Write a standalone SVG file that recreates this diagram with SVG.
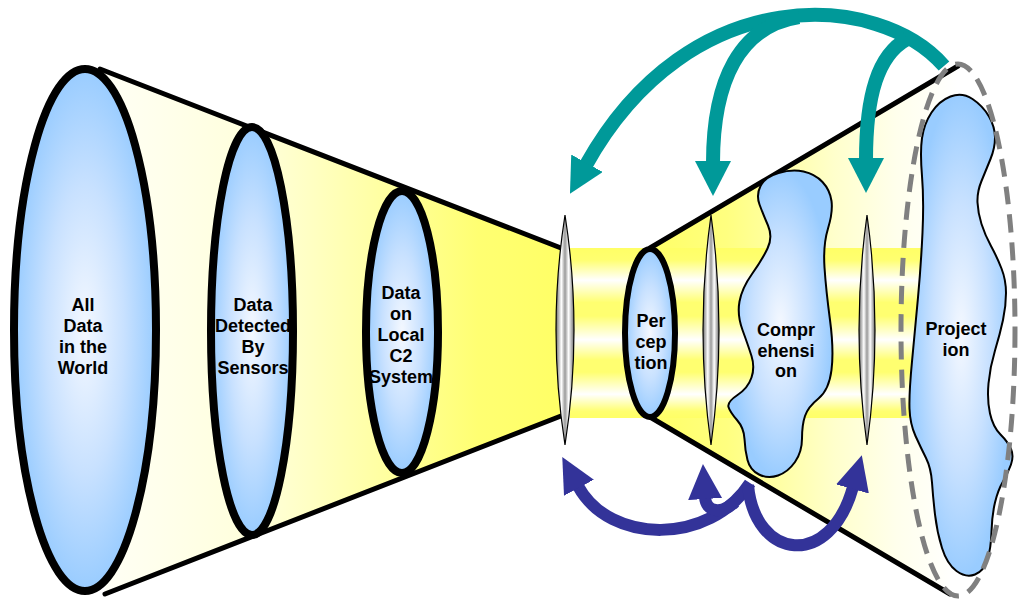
<svg xmlns="http://www.w3.org/2000/svg" width="1018" height="603" viewBox="0 0 1018 603">
<style>
.lbl{font-family:"Liberation Sans",Arial,sans-serif;font-weight:bold;font-size:18px;fill:#000;text-anchor:middle}
.ell{fill:url(#blue);stroke:#000;stroke-width:8}
.blob{fill:url(#blue);stroke:#000;stroke-width:2}
.lens{fill:url(#lensG);stroke:#000;stroke-width:1.2}
.edge{stroke:#000;stroke-width:5;fill:none;stroke-linecap:round}
.teal{fill:none;stroke:#009999;stroke-width:14}
.navy{fill:none;stroke:#333399;stroke-width:12}
</style>
<defs>
<linearGradient id="funL" gradientUnits="userSpaceOnUse" x1="100" y1="0" x2="561" y2="0">
<stop offset="0" stop-color="#FFFFF6"/><stop offset="0.35" stop-color="#FFFFDA"/><stop offset="0.62" stop-color="#FFFFA0"/><stop offset="0.82" stop-color="#FFFF72"/><stop offset="1" stop-color="#FFFF66"/>
</linearGradient>
<linearGradient id="funR" gradientUnits="userSpaceOnUse" x1="650" y1="0" x2="958" y2="0">
<stop offset="0" stop-color="#FFFF66"/><stop offset="0.25" stop-color="#FFFF80"/><stop offset="0.6" stop-color="#FFFFCC"/><stop offset="0.8" stop-color="#FFFFEC"/><stop offset="1" stop-color="#FFFFFF"/>
</linearGradient>
<linearGradient id="stripe" gradientUnits="userSpaceOnUse" x1="0" y1="248" x2="0" y2="418">
<stop offset="0" stop-color="#FFFF66"/><stop offset="0.07" stop-color="#FFFF70"/><stop offset="0.19" stop-color="#FFFFFF"/><stop offset="0.32" stop-color="#FFFF70"/><stop offset="0.40" stop-color="#FFFF70"/><stop offset="0.54" stop-color="#FFFFFF"/><stop offset="0.66" stop-color="#FFFF70"/><stop offset="0.73" stop-color="#FFFF70"/><stop offset="0.86" stop-color="#FFFFFF"/><stop offset="0.96" stop-color="#FFFF70"/><stop offset="1" stop-color="#FFFF66"/>
</linearGradient>
<radialGradient id="blue" cx="0.5" cy="0.5" r="0.5">
<stop offset="0" stop-color="#F4F8FF"/><stop offset="0.55" stop-color="#C8E1FF"/><stop offset="1" stop-color="#99CCFF"/>
</radialGradient>
<linearGradient id="lensG" x1="0" y1="0" x2="1" y2="0">
<stop offset="0" stop-color="#6E6E6E"/><stop offset="0.3" stop-color="#FFFFFF"/><stop offset="0.5" stop-color="#9A9A9A"/><stop offset="0.7" stop-color="#FFFFFF"/><stop offset="1" stop-color="#6E6E6E"/>
</linearGradient>
<marker id="ahT" markerUnits="userSpaceOnUse" markerWidth="36" markerHeight="36" viewBox="0 0 36 36" refX="2" refY="18" orient="auto"><path d="M0,0 L35,18 L0,36 z" fill="#009999"/></marker>
<marker id="ahB" markerUnits="userSpaceOnUse" markerWidth="36" markerHeight="36" viewBox="0 0 36 36" refX="2" refY="18" orient="auto"><path d="M0,1 L35,18 L0,35 z" fill="#333399"/></marker>
</defs>

<g id="funnels">
<polygon points="100,69 561,248 561,416 105,594" fill="url(#funL)"/>
<polygon points="650,248 958,66 950,594 650,417" fill="url(#funR)"/>
<rect x="570" y="248" width="355" height="170" fill="url(#stripe)"/>
<line class="edge" x1="100" y1="69" x2="561" y2="248"/>
<line class="edge" x1="105" y1="594" x2="561" y2="416"/>
<line class="edge" x1="650" y1="248" x2="958" y2="66"/>
<line class="edge" x1="650" y1="417" x2="950" y2="594"/>
</g>

<g id="all-data">
<ellipse class="ell" cx="85" cy="330" rx="71" ry="261"/>
<text class="lbl" x="83" y="311">All</text>
<text class="lbl" x="83" y="332">Data</text>
<text class="lbl" x="83" y="353">in the</text>
<text class="lbl" x="83" y="374">World</text>
</g>

<g id="sensors">
<ellipse class="ell" cx="252" cy="331" rx="41" ry="204"/>
<text class="lbl" x="253" y="311">Data</text>
<text class="lbl" x="253" y="332">Detected</text>
<text class="lbl" x="253" y="353">By</text>
<text class="lbl" x="253" y="374">Sensors</text>
</g>

<g id="local-c2">
<ellipse class="ell" cx="402" cy="332" rx="36" ry="141"/>
<text class="lbl" x="401" y="299">Data</text>
<text class="lbl" x="401" y="320">on</text>
<text class="lbl" x="401" y="341">Local</text>
<text class="lbl" x="401" y="362">C2</text>
<text class="lbl" x="401" y="383">System</text>
</g>

<g id="lens-1"><path class="lens" d="M565,215 Q583,330 565,445 Q547,330 565,215 Z"/></g>

<g id="perception">
<ellipse cx="650" cy="333" rx="25" ry="84" fill="url(#blue)" stroke="#000" stroke-width="6"/>
<text class="lbl" x="651" y="327">Per</text>
<text class="lbl" x="651" y="348">cep</text>
<text class="lbl" x="651" y="369">tion</text>
</g>

<g id="lens-2"><path class="lens" d="M711,215 Q727,330 711,445 Q695,330 711,215 Z"/></g>

<g id="comprehension">
<path class="blob" d="M778.5,173 Q792,169 803.5,171.5 Q815,174 822.5,182 Q830,190 831.5,201 Q833,212 828,228.5 Q823,245 824.5,267.5 Q826,290 830,320 Q834,350 831.5,370 Q829,390 818.5,398.5 Q808,407 805,416 Q802,425 802,438.5 Q802,452 795,462 Q788,472 778,475.5 Q768,479 759,474.5 Q750,470 747.5,460 Q745,450 744.5,439 Q744,428 737,420 Q730,412 728.5,407 Q727,402 737.5,395 Q748,388 751.5,377.5 Q755,367 751.5,356 Q748,345 742.5,330 Q737,315 739.5,301.5 Q742,288 752,274 Q762,260 767.5,248.5 Q773,237 768,225.5 Q763,214 759.5,204.5 Q756,195 760.5,186 Q765,177 778.5,173 Z"/>
<text class="lbl" x="786" y="336">Compr</text>
<text class="lbl" x="786" y="357">ehensi</text>
<text class="lbl" x="786" y="377">on</text>
</g>

<g id="lens-3"><path class="lens" d="M867,215 Q883,330 867,445 Q851,330 867,215 Z"/></g>

<g id="projection">
<path class="blob" d="M950.5,96.5 Q962,92 972.5,99 Q983,106 989,116.5 Q995,127 995,137.5 Q995,148 990.5,159 Q986,170 981.5,181 Q977,192 977.5,202.5 Q978,213 981.5,224 Q985,235 991,246 Q997,257 1001.5,268.5 Q1006,280 1006,293 Q1006,306 1003,320 Q1000,334 995,350.5 Q990,367 988.5,383.5 Q987,400 990,413.5 Q993,427 1000.5,434.5 Q1008,442 1011,449 Q1014,456 1011,464.5 Q1008,473 1003,481.5 Q998,490 995,502.5 Q992,515 991.5,531.5 Q991,548 987.5,559.5 Q984,571 975,574.5 Q966,578 956.5,571 Q947,564 942,548 Q937,532 935,514.5 Q933,497 932,482.5 Q931,468 926,458 Q921,448 915.5,436 Q910,424 909.5,408.5 Q909,393 912,361.5 Q915,330 918,297.5 Q921,265 922.5,232.5 Q924,200 922,176 Q920,152 922,138 Q924,124 931.5,112.5 Q939,101 950.5,96.5 Z"/>
<text class="lbl" x="956" y="335">Project</text>
<text class="lbl" x="956" y="356">ion</text>
</g>

<g id="projection-boundary">
<ellipse cx="958" cy="330" rx="57" ry="266" fill="none" stroke="#808080" stroke-width="5" stroke-dasharray="18 10"/>
</g>

<g id="connectors">
<path class="teal" d="M944,66 C880,-8 690,-22 586,165" marker-end="url(#ahT)"/>
<path class="teal" d="M799,17 C740,26 713,80 713,163" marker-end="url(#ahT)"/>
<path class="teal" d="M907,39 C878,55 866,95 866,160" marker-end="url(#ahT)"/>
<path class="navy" d="M750,483 C710,545 610,545 578,486" marker-end="url(#ahB)"/>
<path class="navy" d="M735,502 C722,514 706,513 705,497" marker-end="url(#ahB)"/>
<path class="navy" d="M748,485 C755,560 830,570 853,487" marker-end="url(#ahB)"/>
</g>
</svg>
